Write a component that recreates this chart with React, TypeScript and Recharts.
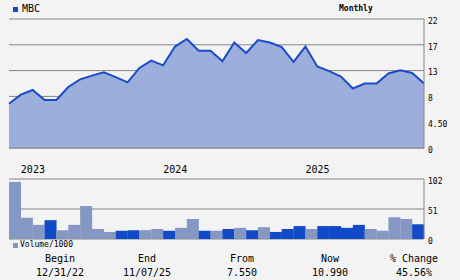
import {
  AreaChart, Area, BarChart, Bar, Cell, XAxis, YAxis, CartesianGrid,
} from "recharts";

const months = [
  "2022-12",
  "2023-01", "2023-02", "2023-03", "2023-04", "2023-05", "2023-06",
  "2023-07", "2023-08", "2023-09", "2023-10", "2023-11", "2023-12",
  "2024-01", "2024-02", "2024-03", "2024-04", "2024-05", "2024-06",
  "2024-07", "2024-08", "2024-09", "2024-10", "2024-11", "2024-12",
  "2025-01", "2025-02", "2025-03", "2025-04", "2025-05", "2025-06",
  "2025-07", "2025-08", "2025-09", "2025-10", "2025-11",
];

const closes = [
  7.55, 9.1, 9.9, 8.2, 8.2, 10.4, 11.7, 12.35, 12.9, 12.1, 11.2, 13.65,
  14.9, 14.1, 17.3, 18.6, 16.6, 16.6, 14.8, 18.0, 16.2, 18.4, 18.0, 17.2,
  14.7, 17.3, 13.9, 13.1, 12.2, 10.15, 11.0, 11.0, 12.7, 13.25, 12.8, 10.99,
];

// volume (thousands) for each month after the first point
const volumes = [
  97, 36, 24, 32, 15, 24, 56, 17, 12, 14, 15, 15,
  17, 14, 19, 34, 14, 14, 17, 19, 15, 20, 12, 17,
  22, 17, 22, 22, 19, 24, 17, 14, 37, 34, 25,
];
const volumeUp = [
  false, false, false, true, false, false, false, false, false, true, true, false,
  false, true, false, false, true, false, true, false, true, false, true, true,
  true, false, true, true, true, true, false, false, false, false, true,
];

const priceTicks = [0, 4.4, 8.8, 13.2, 17.6, 22];
const priceTickLabels = ["0", "4.50", "8", "13", "17", "22"];
const volumeTicks = [0, 51, 102];
const yearTicks = ["2023-01", "2024-01", "2025-01"];

const summary = [
  { label: "Begin", value: "12/31/22", cx: 60 },
  { label: "End", value: "11/07/25", cx: 147 },
  { label: "From", value: "7.550", cx: 242 },
  { label: "Now", value: "10.990", cx: 330 },
  { label: "% Change", value: "45.56%", cx: 414 },
];

const MONO = "'DejaVu Sans Mono', monospace";
const BG = "#f3f3f3";
const FRAME = "#858585";
const LINE = "#1a4cc8";
const FILL = "#9cafdc";
const VOL_UP = "#1249c6";
const VOL_DN = "#8598c4";

const priceData = months.map((m, i) => ({ month: m, close: closes[i] }));
const volumeData = volumes.map((v, i) => ({ month: months[i + 1], vol: v, up: volumeUp[i] }));

function YearTick(props: any) {
  const { x, y, payload } = props;
  return (
    <text x={x} y={y} dy={25} textAnchor="start" fontFamily={MONO} fontSize={10} fill="#000">
      {String(payload.value).slice(0, 4)}
    </text>
  );
}

const tickStyle = { fontFamily: MONO, fontSize: 8, fill: "#000" };

export default function App() {
  return (
    <div style={{ position: "absolute", left: 0, top: 0, width: 460, height: 280, background: BG, overflow: "hidden" }}>
      {/* legend + period */}
      <div style={{ position: "absolute", left: 13, top: 7, width: 5, height: 5, background: VOL_UP }} />
      <div style={{ position: "absolute", left: 22, top: 2, fontFamily: MONO, fontSize: 10, lineHeight: "14px", color: "#000" }}>MBC</div>
      <div style={{ position: "absolute", left: 339, top: 3, fontFamily: MONO, fontSize: 8, fontWeight: "bold", lineHeight: "12px", color: "#000" }}>Monthly</div>

      <div style={{ position: "absolute", left: 0, top: 0 }}>
        <AreaChart width={460} height={180} data={priceData} margin={{ top: 19, right: 0, left: 9, bottom: 0 }}>
          <CartesianGrid vertical={false} stroke={FRAME} strokeWidth={1} yAxisId="price" />
          <XAxis
            dataKey="month"
            height={32}
            ticks={yearTicks}
            interval={0}
            tick={<YearTick />}
            tickLine={false}
            tickSize={0}
            tickMargin={0}
            axisLine={{ stroke: FRAME }}
          />
          <XAxis xAxisId="frame" dataKey="month" orientation="top" height={0} tick={false} tickLine={false} axisLine={{ stroke: FRAME }} />
          <YAxis yAxisId="frame" orientation="left" width={0} domain={[0, 1]} tick={false} tickLine={false} axisLine={{ stroke: FRAME }} />
          <YAxis
            yAxisId="price"
            orientation="right"
            width={36}
            domain={[0, 22]}
            ticks={priceTicks}
            interval={0}
            tickFormatter={(v: number) => priceTickLabels[priceTicks.indexOf(v)]}
            tick={{ ...tickStyle, dy: 2, textAnchor: "start" }}
            tickLine={false}
            tickSize={0}
            tickMargin={4}
            axisLine={{ stroke: FRAME }}
          />
          <Area
            yAxisId="price"
            type="linear"
            dataKey="close"
            stroke={LINE}
            strokeWidth={2}
            fill={FILL}
            fillOpacity={1}
            dot={false}
            activeDot={false}
            isAnimationActive={false}
          />
        </AreaChart>
      </div>

      <div style={{ position: "absolute", left: 0, top: 170 }}>
        <BarChart width={460} height={82} data={volumeData} barCategoryGap={0} barGap={0} margin={{ top: 9, right: 0, left: 9, bottom: 13 }}>
          <CartesianGrid vertical={false} stroke={FRAME} yAxisId="vol" />
          <XAxis dataKey="month" hide />
          <XAxis xAxisId="frame" dataKey="month" orientation="top" height={0} tick={false} tickLine={false} axisLine={{ stroke: FRAME }} />
          <YAxis yAxisId="frame" orientation="left" width={0} domain={[0, 1]} tick={false} tickLine={false} axisLine={{ stroke: FRAME }} />
          <YAxis
            yAxisId="vol"
            orientation="right"
            width={36}
            domain={[0, 102]}
            ticks={volumeTicks}
            interval={0}
            tick={{ ...tickStyle, dy: 2, textAnchor: "start" }}
            tickLine={false}
            tickSize={0}
            tickMargin={4}
            axisLine={{ stroke: FRAME }}
          />
          <Bar yAxisId="vol" dataKey="vol" isAnimationActive={false}>
            {volumeData.map((d) => (
              <Cell key={d.month} fill={d.up ? VOL_UP : VOL_DN} />
            ))}
          </Bar>
        </BarChart>
      </div>

      <div style={{ position: "absolute", left: 13, top: 243, width: 5, height: 5, background: VOL_DN }} />
      <div style={{ position: "absolute", left: 20, top: 239, fontFamily: MONO, fontSize: 8, lineHeight: "12px", color: "#000" }}>Volume/1000</div>

      {summary.map((s) => (
        <div key={s.label}>
          <div style={{ position: "absolute", left: s.cx - 40, width: 80, top: 252, textAlign: "center", fontFamily: MONO, fontSize: 10, lineHeight: "14px", color: "#000" }}>{s.label}</div>
          <div style={{ position: "absolute", left: s.cx - 40, width: 80, top: 266, textAlign: "center", fontFamily: MONO, fontSize: 10, lineHeight: "14px", color: "#000" }}>{s.value}</div>
        </div>
      ))}
    </div>
  );
}
